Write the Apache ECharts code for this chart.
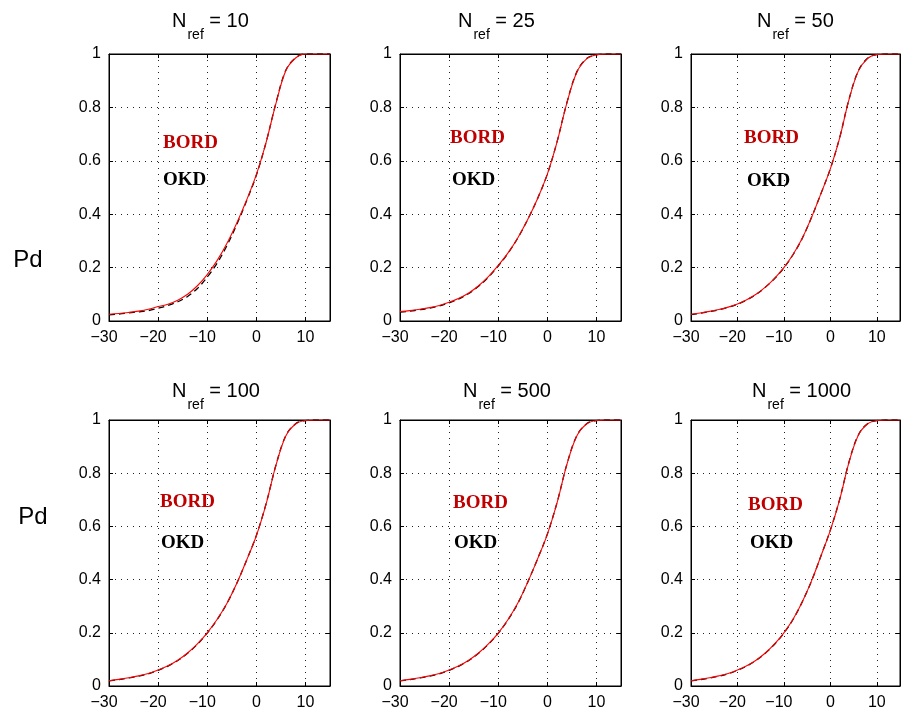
<!DOCTYPE html>
<html><head><meta charset="utf-8">
<script src="https://cdn.jsdelivr.net/npm/echarts@6/dist/echarts.min.js"></script>
<style>html,body{margin:0;padding:0;background:#fff}#c{width:903px;height:713px}</style>
</head><body><div id="c"></div>
<script>
// SNR grid (x)
const snr = [-30,-28,-26,-24,-22,-20,-18,-16,-14,-12,-10,-8,-6,-4,-2,0,2,4,6,8,10,12,14,15];
const nrefLabels = ['10','25','50','100','500','1000'];
const xTicks = [-30,-20,-10,0,10];
const yTicks = [0,0.2,0.4,0.6,0.8,1];

const bord10  = [0.025,0.028,0.032,0.037,0.044,0.054,0.063,0.078,0.100,0.132,0.174,0.226,0.290,0.366,0.452,0.548,0.670,0.815,0.937,0.985,1.000,1.000,1.000,1.000];
const okd10   = [0.023,0.026,0.030,0.034,0.039,0.048,0.058,0.072,0.092,0.122,0.164,0.216,0.282,0.361,0.449,0.546,0.670,0.817,0.939,0.986,1.000,1.000,1.000,1.000];
const bord25  = [0.035,0.039,0.044,0.050,0.058,0.070,0.085,0.105,0.132,0.166,0.208,0.255,0.312,0.380,0.458,0.550,0.672,0.818,0.932,0.982,0.997,1.000,1.000,1.000];
const okd25   = [0.033,0.037,0.042,0.048,0.056,0.068,0.083,0.103,0.130,0.164,0.206,0.254,0.311,0.380,0.458,0.550,0.673,0.819,0.933,0.983,0.997,1.000,1.000,1.000];
const bord50  = [0.025,0.030,0.036,0.043,0.052,0.064,0.080,0.100,0.127,0.160,0.200,0.250,0.312,0.390,0.478,0.570,0.685,0.828,0.935,0.983,0.998,1.000,1.000,1.000];
const okd50   = [0.024,0.029,0.035,0.042,0.051,0.063,0.079,0.099,0.126,0.159,0.199,0.249,0.311,0.390,0.478,0.570,0.686,0.829,0.936,0.984,0.998,1.000,1.000,1.000];
const bord100 = [0.020,0.025,0.031,0.038,0.047,0.060,0.076,0.097,0.124,0.158,0.200,0.250,0.310,0.385,0.472,0.565,0.685,0.830,0.940,0.985,0.998,1.000,1.000,1.000];
const okd100  = [0.019,0.024,0.030,0.037,0.046,0.059,0.075,0.096,0.123,0.157,0.199,0.249,0.310,0.385,0.472,0.566,0.686,0.831,0.941,0.986,0.998,1.000,1.000,1.000];
const bord500 = [0.020,0.025,0.031,0.038,0.047,0.060,0.076,0.097,0.124,0.158,0.199,0.250,0.312,0.390,0.477,0.570,0.690,0.834,0.940,0.985,0.998,1.000,1.000,1.000];
const okd500  = [0.019,0.024,0.030,0.037,0.046,0.059,0.075,0.096,0.123,0.157,0.198,0.249,0.311,0.390,0.477,0.571,0.691,0.835,0.941,0.986,0.998,1.000,1.000,1.000];
const bord1000= [0.020,0.025,0.031,0.038,0.047,0.060,0.076,0.097,0.124,0.158,0.200,0.252,0.318,0.397,0.490,0.585,0.700,0.840,0.942,0.985,0.998,1.000,1.000,1.000];
const okd1000 = [0.019,0.024,0.030,0.037,0.046,0.059,0.075,0.096,0.123,0.157,0.199,0.251,0.318,0.397,0.490,0.586,0.701,0.841,0.943,0.986,0.998,1.000,1.000,1.000];

const bordSets = [bord10,bord25,bord50,bord100,bord500,bord1000];
const okdSets  = [okd10,okd25,okd50,okd100,okd500,okd1000];

// layout
const colLeft = [109,400,691];
const rowTop = [54,420];
const rowH = [267,266];
const plotW = 221;
const titleX = [172,458,757,172,463,752];
const titleY = [21,21,21,391,391,391];
const bordPos = [[163,143],[450,138],[744,138],[160,502],[453,503],[748,505]];
const okdPos  = [[163,180],[452,180],[747,181],[161,543],[454,543],[750,543]];
const pdPos = [[28,260],[33,517]];

const FONT = '"Liberation Sans", Arial, Helvetica, sans-serif';
const grids = [], xAxes = [], yAxes = [], series = [], graphics = [];
const dotted = {show: true, lineStyle: {color: '#222', type: [1,5], width: 1}};
const tick = {show: true, inside: true, length: 4, lineStyle: {color: '#000'}};
const line = {show: true, onZero: false, lineStyle: {color: '#000', width: 1}};
for (let i = 0; i < 6; i++) {
  const r = Math.floor(i/3), c = i % 3;
  grids.push({left: colLeft[c], top: rowTop[r], width: plotW, height: rowH[r], show: true, borderColor: '#000', borderWidth: 1, backgroundColor: '#fff', containLabel: false});
  xAxes.push({type: 'value', gridIndex: i, min: -30, max: 15, interval: 10, position: 'bottom',
    axisLine: line, axisTick: tick,
    axisLabel: {color: '#000', fontFamily: FONT, fontSize: 16, margin: 9,
      rich: {m: {color: '#000', fontFamily: FONT, fontSize: 16, padding: [0, 10, 0, 0]}},
      formatter: v => {
        if (xTicks.indexOf(v) < 0) return '';
        return v < 0 ? '{m|\u2212' + Math.abs(v) + '}' : String(v);
      }},
    splitLine: dotted});
  yAxes.push({type: 'value', gridIndex: i, min: 0, max: 1, interval: 0.2, position: 'left',
    axisLine: line, axisTick: tick,
    axisLabel: {color: '#000', fontFamily: FONT, fontSize: 16, margin: 8,
      formatter: v => { const t = yTicks.find(k => Math.abs(k - v) < 1e-9); return t === undefined ? '' : String(t); }},
    splitLine: dotted});
  series.push({name: 'OKD', type: 'line', xAxisIndex: i, yAxisIndex: i, showSymbol: false, smooth: 0.35,
    data: snr.map((x, k) => [x, okdSets[i][k]]), lineStyle: {color: '#000', width: 1.3, type: [6,4]}, z: 2, animation: false});
  series.push({name: 'BORD', type: 'line', xAxisIndex: i, yAxisIndex: i, showSymbol: false, smooth: 0.35,
    data: snr.map((x, k) => [x, bordSets[i][k]]), lineStyle: {color: '#ff0000', width: 1.1}, z: 3, animation: false});

  graphics.push({type: 'text', x: titleX[i], y: titleY[i], z: 10, style: {
    text: '{n|N}{s|ref}{n| = ' + nrefLabels[i] + '}', verticalAlign: 'middle', align: 'left',
    rich: {n: {fontSize: 20, fontFamily: FONT, fill: '#000', color: '#000'},
           s: {fontSize: 14, fontFamily: FONT, fill: '#000', color: '#000', padding: [28,0,0,1]}}}});
  graphics.push({type: 'text', x: bordPos[i][0], y: bordPos[i][1], z: 10, style: {text: 'BORD', fill: '#c00000',
    font: 'bold 19px "Liberation Serif", "Times New Roman", serif', verticalAlign: 'middle', align: 'left'}});
  graphics.push({type: 'text', x: okdPos[i][0], y: okdPos[i][1], z: 10, style: {text: 'OKD', fill: '#000',
    font: 'bold 19px "Liberation Serif", "Times New Roman", serif', verticalAlign: 'middle', align: 'left'}});
}
// mirrored top/right axes (box ticks)
for (let i = 0; i < 6; i++) {
  xAxes.push({type: 'value', gridIndex: i, min: -30, max: 15, interval: 10, position: 'top',
    axisLine: line, axisTick: tick, axisLabel: {show: false}, splitLine: {show: false}});
  yAxes.push({type: 'value', gridIndex: i, min: 0, max: 1, interval: 0.2, position: 'right',
    axisLine: line, axisTick: tick, axisLabel: {show: false}, splitLine: {show: false}});
}
pdPos.forEach(p => graphics.push({type: 'text', x: p[0], y: p[1], style: {text: 'Pd', fill: '#000',
  font: '24px "Liberation Sans", Arial, sans-serif', align: 'center', verticalAlign: 'middle'}}));

const chart = echarts.init(document.getElementById('c'), null, {renderer: 'canvas'});
chart.setOption({backgroundColor: '#fff', animation: false, grid: grids, xAxis: xAxes, yAxis: yAxes, series: series, graphic: graphics});
</script></body></html>
